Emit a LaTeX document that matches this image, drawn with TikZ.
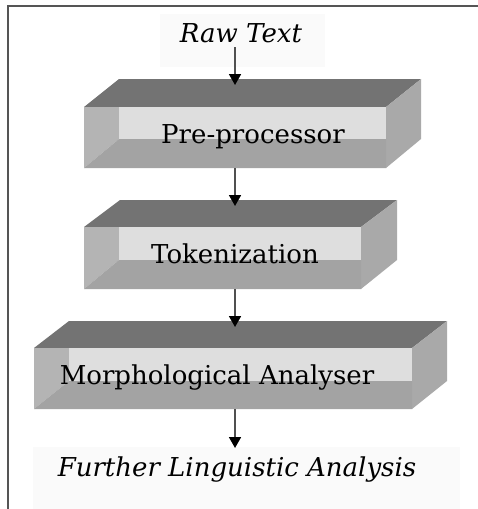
\documentclass[tikz,border=0pt]{standalone}
\usepackage{fontspec}
\setmainfont{DejaVu Serif}
\usetikzlibrary{arrows.meta}
\definecolor{topc}{HTML}{737373}
\definecolor{leftc}{HTML}{B4B4B4}
\definecolor{lightc}{HTML}{DEDEDE}
\definecolor{botc}{HTML}{A3A3A3}
\definecolor{rightc}{HTML}{A9A9A9}
\definecolor{framec}{HTML}{555555}
\definecolor{arrc}{HTML}{505050}
\definecolor{faintc}{HTML}{FAFAFA}
\tikzset{
  boxtext/.style={anchor=base, inner sep=0pt, font=\fontsize{26}{30}\selectfont},
  itext/.style={anchor=base, inner sep=0pt, font=\fontsize{26}{30}\selectfont\itshape},
  flow/.style={draw=arrc, line width=1.8pt, -{Triangle[length=11pt,width=12pt,color=black]}},
}
% #1 L, #2 R, #3 T, #4 M, #5 B, #6 dx, #7 dy
\newcommand{\bevelbox}[7]{%
  \fill[topc] (#1,-#3) -- (#1+#6,-#3+#7) -- (#2+#6,-#3+#7) -- (#2,-#3) -- cycle;
  \fill[rightc] (#2,-#3) -- (#2+#6,-#3+#7) -- (#2+#6,-#4) -- (#2,-#5) -- cycle;
  \fill[leftc] (#1,-#3) -- (#1+35,-#3) -- (#1+35,-#4) -- (#1,-#5) -- cycle;
  \fill[botc] (#1,-#5) -- (#1+35,-#4) -- (#2,-#4) -- (#2,-#5) -- cycle;
  \fill[lightc] (#1+35,-#3) rectangle (#2,-#4);
}
\begin{document}
\begin{tikzpicture}[x=1pt,y=1pt]
\useasboundingbox (0,0) rectangle (478,-509);
\fill[white] (0,0) rectangle (478,-509);
% faint label backgrounds
\fill[faintc] (160,-14) rectangle (325,-67);
\fill[faintc] (33,-447) rectangle (460,-509);
% frame
\draw[framec, line width=2pt] (478,-5.5) -- (8,-5.5) -- (8,-509);
% boxes
\bevelbox{84}{386}{107}{139}{168}{35}{28}
\bevelbox{84}{361}{227}{260}{289}{36}{27}
\bevelbox{34}{412}{348}{381}{409}{35}{27}
% texts
\node[itext] (raw) at (241,-42) {Raw Text};
\node[boxtext] (pre) at (253,-143) {Pre-processor};
\node[boxtext] (tok) at (235,-263) {Tokenization};
\node[boxtext] (mor) at (217,-384) {Morphological Analyser};
\node[itext] (fur) at (237,-476) {Further Linguistic Analysis};
% arrow endpoints
\coordinate (a0s) at (235,-47);
\coordinate (a0e) at (235,-85);
\coordinate (a1s) at (235,-168);
\coordinate (a1e) at (235,-206);
\coordinate (a2s) at (235,-289);
\coordinate (a2e) at (235,-327);
\coordinate (a3s) at (235,-409);
\coordinate (a3e) at (235,-448);
\draw[flow] (a0s) -- (a0e);
\draw[flow] (a1s) -- (a1e);
\draw[flow] (a2s) -- (a2e);
\draw[flow] (a3s) -- (a3e);
\end{tikzpicture}
\end{document}
